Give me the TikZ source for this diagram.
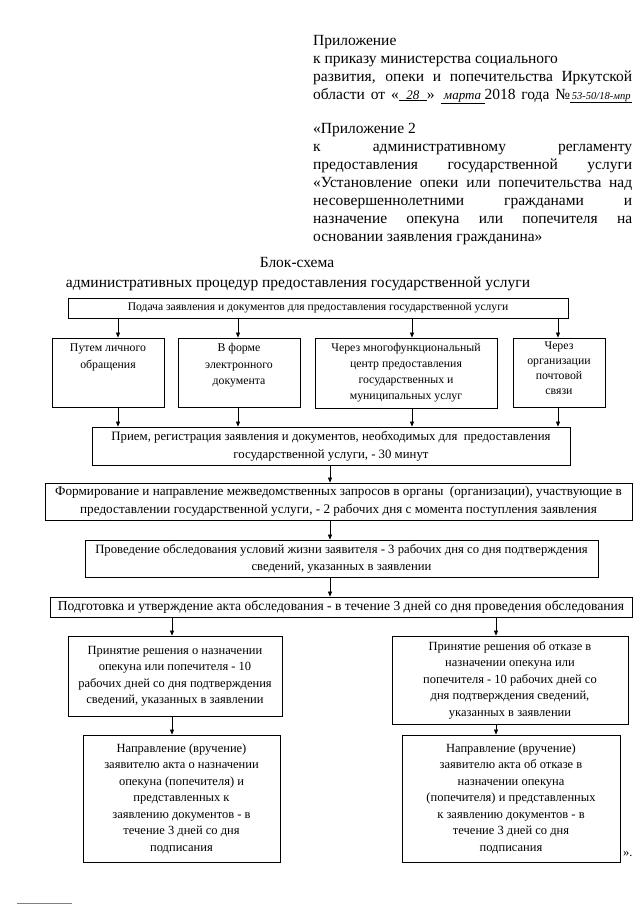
\documentclass[tikz,border=0pt]{standalone}
\usepackage{fontspec}
\setmainfont{Liberation Serif}
\usetikzlibrary{arrows.meta}
\newcommand\hdfont{\fontsize{15.5}{18}\selectfont}
\newcommand\bxfont{\fontsize{12.5}{16.5}\selectfont}
\newcommand\fs[2]{\fontsize{#1}{#2}\selectfont}
\begin{document}
\begin{tikzpicture}[x=1pt,y=-1pt,
  box/.style={draw, line width=0.8pt, align=center, inner sep=0pt, font=\bxfont},
  txt/.style={align=center, inner sep=0pt, font=\bxfont},
  hd/.style={anchor=base west, inner sep=0pt, font=\hdfont},
  arr/.style={line width=0.7pt, -{Triangle[length=5pt,width=4pt]}}]
\useasboundingbox[fill=white] (0,0) rectangle (640,905);
% header
\node[hd] (h1) at (313,45) {Приложение};
\node[hd] (h2) at (313,63) {к приказу министерства социального};
\node[hd] (h3) at (313,81) {\makebox[319pt][s]{развития, опеки и попечительства Иркутской}};
\node[hd] (h4) at (313,99) {\makebox[319pt][s]{области от «\underline{\makebox[28pt]{\itshape\fs{13}{13}28}}» \underline{\makebox[44pt]{\itshape\fs{13}{13}марта}}2018 года №\underline{\makebox[62pt]{\itshape\fs{10.5}{11}53-50/18-мпр}}}};
\node[hd] (h5) at (313,133) {«Приложение 2};
\node[hd] (h6) at (313,151) {\makebox[319pt][s]{к административному регламенту}};
\node[hd] (h7) at (313,169) {\makebox[319pt][s]{предоставления государственной услуги}};
\node[hd] (h8) at (313,187) {\makebox[319pt][s]{«Установление опеки или попечительства над}};
\node[hd] (h9) at (313,205) {\makebox[319pt][s]{несовершеннолетними гражданами и}};
\node[hd] (h10) at (313,223) {\makebox[319pt][s]{назначение опекуна или попечителя на}};
\node[hd] (h11) at (313,241) {основании заявления гражданина»};
% title
\node[anchor=base, inner sep=0pt, font=\hdfont] (t1) at (297,267) {Блок-схема};
\node[anchor=base, inner sep=0pt, font=\hdfont] (t2) at (298,287) {административных процедур предоставления государственной услуги};
% boxes
\node[box, minimum width=500, minimum height=20, font=\fs{11.6}{14}] (pod) at (318,308) {Подача заявления и документов для предоставления государственной услуги};
\node[box, minimum width=112, minimum height=69] (a) at (108,372.5) {};
\node[txt, anchor=north, font=\fs{11.8}{16.5}] (ta) at ([yshift=-6pt]a.north) {Путем личного\\обращения};
\node[box, minimum width=122, minimum height=69] (b) at (239,372.5) {};
\node[txt, anchor=north, font=\fs{11.8}{16.5}] (tb) at ([yshift=-6pt]b.north) {В форме\\электронного\\документа};
\node[box, minimum width=182, minimum height=70, font=\fs{11.8}{16}] (c) at (406,373) {Через многофункциональный\\центр предоставления\\государственных и\\муниципальных услуг};
\node[box, minimum width=92, minimum height=69] (d) at (559,372.5) {};
\node[txt, anchor=north, font=\fs{11.8}{15}] (td) at ([yshift=-4pt]d.north) {Через\\организации\\почтовой\\связи};
\node[box, minimum width=478, minimum height=38, font=\fs{12.8}{18}] (pr) at (331,446) {Прием, регистрация заявления и документов, необходимых для\ \ предоставления\\государственной услуги, - 30 минут};
\node[box, minimum width=587, minimum height=37, font=\fs{13.2}{18.5}] (fo) at (338.5,501.5) {Формирование и направление межведомственных запросов в органы\ \ (организации), участвующие в\\предоставлении государственной услуги, - 2 рабочих дня с момента поступления заявления};
\node[box, minimum width=513, minimum height=37, font=\fs{12.7}{17}] (pv) at (341.5,558.5) {Проведение обследования условий жизни заявителя - 3 рабочих дня со дня подтверждения\\сведений, указанных в заявлении};
\node[box, minimum width=582, minimum height=20, font=\fs{13.6}{16}] (pg) at (341,607) {Подготовка и утверждение акта обследования - в течение 3 дней со дня проведения обследования};
\node[box, minimum width=214, minimum height=80] (dl) at (175,676) {Принятие решения о назначении\\опекуна или попечителя - 10\\рабочих дней со дня подтверждения\\сведений, указанных в заявлении};
\node[box, minimum width=236, minimum height=88] (dr) at (510,680) {Принятие решения об отказе в\\назначении опекуна или\\попечителя - 10 рабочих дней со\\дня подтверждения сведений,\\указанных в заявлении};
\node[box, minimum width=197, minimum height=127] (fl) at (181.5,798.5) {Направление (вручение)\\заявителю акта о назначении\\опекуна (попечителя) и\\представленных к\\заявлению документов - в\\течение 3 дней со дня\\подписания};
\node[box, minimum width=218, minimum height=127] (fr) at (511,798.5) {Направление (вручение)\\заявителю акта об отказе в\\назначении опекуна\\(попечителя) и представленных\\к заявлению документов - в\\течение 3 дней со дня\\подписания};
\node[anchor=base west, inner sep=0pt, font=\bxfont] (q) at (623,856) {».};
% x positions of connectors
\coordinate (xa) at (118,0);
\coordinate (xb) at (238,0);
\coordinate (xc) at (412,0);
\coordinate (xd) at (558,0);
\coordinate (xm) at (330,0);
\coordinate (xl) at (172,0);
\coordinate (xr) at (496,0);
\draw[arr] (pod.south -| xa) -- (a.north -| xa);
\draw[arr] (pod.south -| xb) -- (b.north -| xb);
\draw[arr] (pod.south -| xc) -- (c.north -| xc);
\draw[arr] (pod.south -| xd) -- (d.north -| xd);
\draw[arr] (a.south -| xa) -- (pr.north -| xa);
\draw[arr] (b.south -| xb) -- (pr.north -| xb);
\draw[arr] (c.south -| xc) -- (pr.north -| xc);
\draw[arr] (d.south -| xd) -- (pr.north -| xd);
\draw[arr] (pr.south -| xm) -- (fo.north -| xm);
\draw[arr] (fo.south -| xm) -- (pv.north -| xm);
\draw[arr] (pv.south -| xm) -- (pg.north -| xm);
\draw[arr] (pg.south -| xl) -- (dl.north -| xl);
\draw[arr] (pg.south -| xr) -- (dr.north -| xr);
\draw[arr] (dl.south -| xl) -- (fl.north -| xl);
\draw[arr] (dr.south -| xr) -- (fr.north -| xr);
% footnote rule
\coordinate (f1) at (17,903);
\coordinate (f2) at (72,903);
\draw[gray, line width=0.8pt] (f1) -- (f2);
\end{tikzpicture}
\end{document}
